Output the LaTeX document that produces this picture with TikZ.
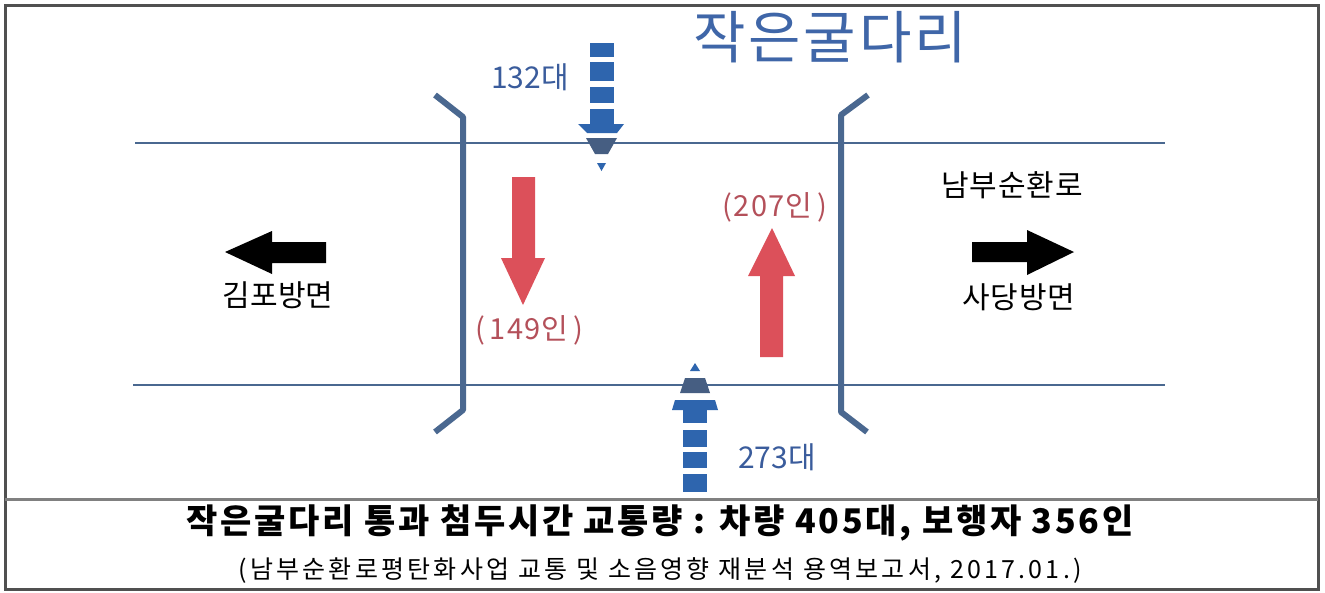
\documentclass[tikz,border=0pt]{standalone}
\usepackage{fontspec}
\setmainfont{Noto Sans CJK KR}
\definecolor{roadc}{HTML}{4A6890}
\definecolor{bluearr}{HTML}{2E65AE}
\definecolor{darktrap}{HTML}{465E82}
\definecolor{redarr}{HTML}{DC505A}
\definecolor{redtxt}{HTML}{B4505A}
\definecolor{bluetxt}{HTML}{3A5C9C}
\definecolor{titlec}{HTML}{3F66A8}
\definecolor{framec}{HTML}{505050}
\tikzset{
  road/.style={draw=roadc, line width=2pt},
  bracket/.style={draw=roadc, line width=6pt, line join=round},
  blueseg/.style={fill=bluearr},
  darkseg/.style={fill=darktrap},
  redarrow/.style={fill=redarr},
  blackarrow/.style={fill=black},
  bluelbl/.style={text=bluetxt, font=\fontsize{30}{32}\selectfont, inner sep=0pt},
  redlbl/.style={text=redtxt, font=\fontsize{29}{31}\selectfont\addfontfeature{LetterSpace=4}, inner sep=0pt},
  dirlbl/.style={text=black, font=\fontsize{30}{32}\selectfont, inner sep=0pt},
}
\begin{document}
\begin{tikzpicture}[x=1pt,y=-1pt]
\useasboundingbox (0,0) rectangle (1325,592);
\fill[white] (0,0) rectangle (1325,592);
% frame
\draw[framec, line width=3pt] (5,5) rectangle (1318,589);
\draw[gray, line width=3pt] (5,499) -- (1318,499);
% roads
\coordinate (rt1) at (135,143); \coordinate (rt2) at (1165,143);
\coordinate (rb1) at (133,385); \coordinate (rb2) at (1165,385);
\draw[road] (rt1) -- (rt2);
\draw[road] (rb1) -- (rb2);
% brackets
\draw[bracket] (435,95) -- (463,117) -- (463,410) -- (435,432);
\draw[bracket] (868,95) -- (841,115) -- (841,412) -- (867,432);
% top blue arrow
\fill[blueseg] (590,43) rectangle (614,57);
\fill[blueseg] (590,62) rectangle (614,81);
\fill[blueseg] (590,87) rectangle (614,103);
\fill[blueseg] (590,109) rectangle (614,125);
\fill[blueseg] (578,124) -- (624,124) -- (617,133) -- (587,133) -- cycle;
\fill[darkseg] (586,138) -- (617,138) -- (608,154) -- (595,154) -- cycle;
\fill[blueseg] (597,163) -- (606,163) -- (601.5,171) -- cycle;
% bottom blue arrow
\fill[blueseg] (690,371) -- (700,371) -- (695,363) -- cycle;
\fill[darkseg] (685,378) -- (705,378) -- (710,393) -- (680,393) -- cycle;
\fill[blueseg] (675,400) -- (715,400) -- (718,410) -- (672,410) -- cycle;
\fill[blueseg] (683,410) rectangle (707,423);
\fill[blueseg] (683,430) rectangle (707,447);
\fill[blueseg] (683,452) rectangle (707,468);
\fill[blueseg] (683,474) rectangle (707,492);
% red arrows
\fill[redarrow] (512,177) -- (535,177) -- (535,258) -- (545,258) -- (523,305) -- (501,258) -- (512,258) -- cycle;
\fill[redarrow] (760,357) -- (783,357) -- (783,276) -- (795,276) -- (772,228) -- (748,276) -- (760,276) -- cycle;
% black arrows
\fill[blackarrow] (225,252) -- (272,231) -- (272,242) -- (326,242) -- (326,263) -- (272,263) -- (272,274) -- cycle;
\fill[blackarrow] (1074,252) -- (1027,230) -- (1027,242) -- (972,242) -- (972,262) -- (1027,262) -- (1027,275) -- cycle;
% texts
\node[text=titlec, font=\fontsize{57}{60}\selectfont\addfontfeature{LetterSpace=5}, inner sep=0pt] (title) at (830,37) {작은굴다리};
\node[bluelbl] (l132) at (530,77) {132대};
\node[bluelbl] (l273) at (777,457) {273대};
\node[redlbl] (l149) at (529,330) {(\,149인\,)};
\node[redlbl] (l207) at (775,207) {(207인\,)};
\node[dirlbl] (gimpo) at (278,295) {김포방면};
\node[dirlbl, font=\fontsize{30}{32}\selectfont\addfontfeature{LetterSpace=3}] (nambu) at (1012,185) {남부순환로};
\node[dirlbl, font=\fontsize{30}{32}\selectfont\addfontfeature{LetterSpace=3}] (sadang) at (1019,297) {사당방면};
\node[font=\bfseries\fontsize{34}{36}\selectfont\addfontfeature{LetterSpace=8}, inner sep=0pt] (cap1) at (660,523) {작은굴다리 통과 첨두시간 교통량 : 차량 405대, 보행자 356인};
\node[font=\fontsize{25}{27}\selectfont\addfontfeature{LetterSpace=13}, inner sep=0pt] (cap2) at (660,571) {(남부순환로평탄화사업 교통 및 소음영향 재분석 용역보고서, 2017.01.)};
\end{tikzpicture}
\end{document}
